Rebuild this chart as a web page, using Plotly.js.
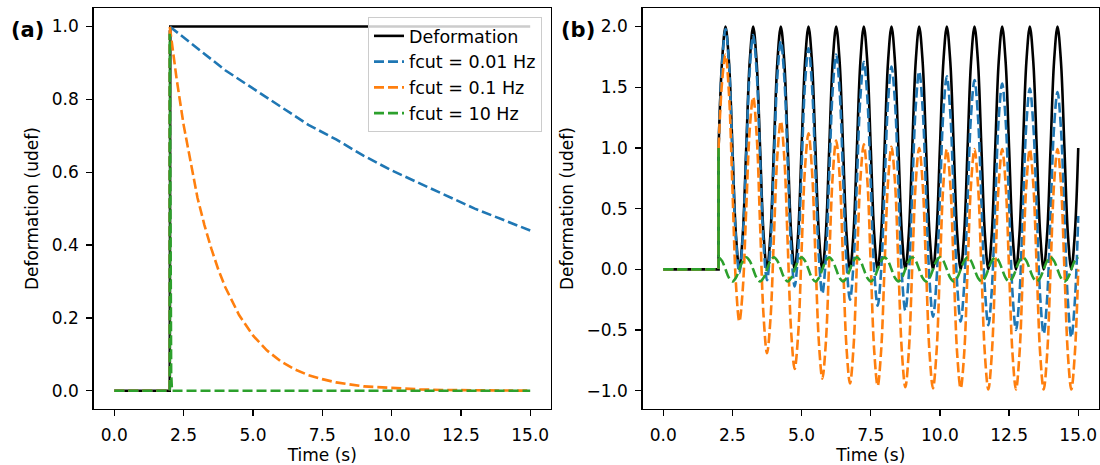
<!DOCTYPE html>
<html>
<head>
<meta charset="utf-8">
<script src="https://cdn.plot.ly/plotly-3.0.1.min.js"></script>
<style>html,body{margin:0;padding:0;background:#fff}#chart{width:1100px;height:465px}</style>
</head>
<body>
<div id="chart"></div>
<script>
// ---------- Panel (a): step deformation ----------
const tA_def = [0, 2, 2.02, 15];
const yA_def = [0, 0, 1, 1];

const tA_f001 = [0, 2, 2, 3, 4, 5, 6, 7, 8, 9, 10, 11, 12, 13, 14, 15];
const yA_f001 = [0, 0, 1, 0.94, 0.88, 0.83, 0.78, 0.73, 0.69, 0.645, 0.605, 0.57, 0.535, 0.50, 0.47, 0.44];

const tA_f01 = [0, 2, 2, 2.1, 2.25, 2.5, 2.75, 3, 3.25, 3.5, 3.75, 4, 4.5, 5, 5.5, 6, 6.5, 7, 7.5, 8, 9, 10, 11, 12, 13, 14, 15];
const yA_f01 = [0, 0, 1, 0.94, 0.855, 0.73, 0.625, 0.53, 0.455, 0.39, 0.333, 0.285, 0.208, 0.152, 0.111, 0.081, 0.059, 0.043, 0.032, 0.023, 0.012, 0.007, 0.004, 0.002, 0.001, 0.0005, 0.0003];

const tA_f10 = [0, 2, 2, 2.02, 2.05, 2.08, 15];
const yA_f10 = [0, 0, 0.98, 0.3, 0.05, 0, 0];

// ---------- Panel (b): sinusoidal deformation ----------
const tB_pre = [0, 2, 2];
const yB_pre = [0, 0, 1];
const tB_preG = [0, 2, 2, 2.0];
const yB_preG = [0, 0, 1, 0.1];

const tB = [
  2, 2.125, 2.25, 2.375, 2.5, 2.625, 2.75, 2.875,
  3, 3.125, 3.25, 3.375, 3.5, 3.625, 3.75, 3.875,
  4, 4.125, 4.25, 4.375, 4.5, 4.625, 4.75, 4.875,
  5, 5.125, 5.25, 5.375, 5.5, 5.625, 5.75, 5.875,
  6, 6.125, 6.25, 6.375, 6.5, 6.625, 6.75, 6.875,
  7, 7.125, 7.25, 7.375, 7.5, 7.625, 7.75, 7.875,
  8, 8.125, 8.25, 8.375, 8.5, 8.625, 8.75, 8.875,
  9, 9.125, 9.25, 9.375, 9.5, 9.625, 9.75, 9.875,
  10, 10.125, 10.25, 10.375, 10.5, 10.625, 10.75, 10.875,
  11, 11.125, 11.25, 11.375, 11.5, 11.625, 11.75, 11.875,
  12, 12.125, 12.25, 12.375, 12.5, 12.625, 12.75, 12.875,
  13, 13.125, 13.25, 13.375, 13.5, 13.625, 13.75, 13.875,
  14, 14.125, 14.25, 14.375, 14.5, 14.625, 14.75, 14.875,
  15
];

const yB_def = [
  1, 1.71, 2, 1.71, 1, 0.29, 0, 0.29,
  1, 1.71, 2, 1.71, 1, 0.29, 0, 0.29,
  1, 1.71, 2, 1.71, 1, 0.29, 0, 0.29,
  1, 1.71, 2, 1.71, 1, 0.29, 0, 0.29,
  1, 1.71, 2, 1.71, 1, 0.29, 0, 0.29,
  1, 1.71, 2, 1.71, 1, 0.29, 0, 0.29,
  1, 1.71, 2, 1.71, 1, 0.29, 0, 0.29,
  1, 1.71, 2, 1.71, 1, 0.29, 0, 0.29,
  1, 1.71, 2, 1.71, 1, 0.29, 0, 0.29,
  1, 1.71, 2, 1.71, 1, 0.29, 0, 0.29,
  1, 1.71, 2, 1.71, 1, 0.29, 0, 0.29,
  1, 1.71, 2, 1.71, 1, 0.29, 0, 0.29,
  1, 1.71, 2, 1.71, 1, 0.29, 0, 0.29,
  1
];

const yB_f001 = [
  1.00, 1.69, 1.98, 1.69, 0.97, 0.26, -0.03, 0.26,
  0.95, 1.64, 1.93, 1.63, 0.92, 0.21, -0.09, 0.20,
  0.90, 1.59, 1.88, 1.58, 0.87, 0.16, -0.14, 0.15,
  0.84, 1.53, 1.82, 1.52, 0.81, 0.10, -0.20, 0.09,
  0.79, 1.48, 1.77, 1.47, 0.76, 0.05, -0.25, 0.04,
  0.73, 1.42, 1.71, 1.42, 0.71, -0.01, -0.30, -0.01,
  0.69, 1.38, 1.67, 1.38, 0.67, -0.05, -0.34, -0.05,
  0.65, 1.34, 1.63, 1.33, 0.62, -0.09, -0.39, -0.10,
  0.60, 1.30, 1.59, 1.29, 0.58, -0.13, -0.43, -0.14,
  0.57, 1.27, 1.56, 1.26, 0.55, -0.16, -0.46, -0.17,
  0.54, 1.24, 1.53, 1.23, 0.52, -0.20, -0.50, -0.21,
  0.50, 1.20, 1.49, 1.19, 0.48, -0.23, -0.53, -0.24,
  0.47, 1.17, 1.46, 1.16, 0.45, -0.26, -0.56, -0.27,
  0.44
];

const yB_f01 = [
  1.00, 1.54, 1.77, 1.45, 0.67, -0.11, -0.43, -0.16,
  0.50, 1.15, 1.42, 1.11, 0.37, -0.38, -0.69, -0.41,
  0.27, 0.94, 1.22, 0.92, 0.20, -0.52, -0.82, -0.54,
  0.15, 0.84, 1.12, 0.82, 0.11, -0.60, -0.90, -0.61,
  0.08, 0.77, 1.06, 0.77, 0.06, -0.65, -0.94, -0.65,
  0.05, 0.74, 1.03, 0.74, 0.04, -0.67, -0.96, -0.67,
  0.03, 0.72, 1.01, 0.72, 0.02, -0.68, -0.97, -0.68,
  0.02, 0.71, 1.00, 0.71, 0.01, -0.69, -0.98, -0.69,
  0.01, 0.70, 0.99, 0.70, 0.00, -0.70, -0.98, -0.70,
  0.00, 0.70, 0.99, 0.70, 0.00, -0.70, -0.99, -0.70,
  0.00, 0.70, 0.99, 0.70, 0.00, -0.70, -0.99, -0.70,
  0.00, 0.70, 0.99, 0.70, 0.00, -0.70, -0.99, -0.70,
  0.00, 0.70, 0.99, 0.70, 0.00, -0.70, -0.99, -0.70,
  0.00
];

const yB_f10 = [
  0.10, 0.07, 0.00, -0.07, -0.10, -0.07, 0.00, 0.07,
  0.10, 0.07, 0.00, -0.07, -0.10, -0.07, 0.00, 0.07,
  0.10, 0.07, 0.00, -0.07, -0.10, -0.07, 0.00, 0.07,
  0.10, 0.07, 0.00, -0.07, -0.10, -0.07, 0.00, 0.07,
  0.10, 0.07, 0.00, -0.07, -0.10, -0.07, 0.00, 0.07,
  0.10, 0.07, 0.00, -0.07, -0.10, -0.07, 0.00, 0.07,
  0.10, 0.07, 0.00, -0.07, -0.10, -0.07, 0.00, 0.07,
  0.10, 0.07, 0.00, -0.07, -0.10, -0.07, 0.00, 0.07,
  0.10, 0.07, 0.00, -0.07, -0.10, -0.07, 0.00, 0.07,
  0.10, 0.07, 0.00, -0.07, -0.10, -0.07, 0.00, 0.07,
  0.10, 0.07, 0.00, -0.07, -0.10, -0.07, 0.00, 0.07,
  0.10, 0.07, 0.00, -0.07, -0.10, -0.07, 0.00, 0.07,
  0.10, 0.07, 0.00, -0.07, -0.10, -0.07, 0.00, 0.07,
  0.10
];

// ---------- Labels / ticks ----------
const seriesNames = ['Deformation', 'fcut = 0.01 Hz', 'fcut = 0.1 Hz', 'fcut = 10 Hz'];
const xTickVals = [0, 2.5, 5, 7.5, 10, 12.5, 15];
const xTickText = ['0.0', '2.5', '5.0', '7.5', '10.0', '12.5', '15.0'];
const yATickVals = [0, 0.2, 0.4, 0.6, 0.8, 1.0];
const yATickText = ['0.0', '0.2', '0.4', '0.6', '0.8', '1.0'];
const yBTickVals = [-1, -0.5, 0, 0.5, 1, 1.5, 2];
const yBTickText = ['\u22121.0', '\u22120.5', '0.0', '0.5', '1.0', '1.5', '2.0'];
const xTitle = 'Time (s)';
const yTitle = 'Deformation (udef)';
const panelLabels = ['(a)', '(b)'];

// ---------- Styling ----------
const colors = ['#000000', '#1f77b4', '#ff7f0e', '#2ca02c'];
const LW = 2.6;
const DASH = '10px,4px';
const FONT = 'DejaVu Sans, Verdana, sans-serif';
const FS = 17;

function line(i, shape) {
  return {color: colors[i], width: LW, dash: i === 0 ? 'solid' : DASH, shape: shape || 'linear'};
}

const traces = [
  {x: tA_def, y: yA_def, name: seriesNames[0], mode: 'lines', line: line(0), xaxis: 'x', yaxis: 'y'},
  {x: tA_f001, y: yA_f001, name: seriesNames[1], mode: 'lines', line: line(1), xaxis: 'x', yaxis: 'y'},
  {x: tA_f01, y: yA_f01, name: seriesNames[2], mode: 'lines', line: line(2), xaxis: 'x', yaxis: 'y'},
  {x: tA_f10, y: yA_f10, name: seriesNames[3], mode: 'lines', line: line(3), xaxis: 'x', yaxis: 'y'},

  {x: tB_pre, y: yB_pre, mode: 'lines', line: line(0), xaxis: 'x2', yaxis: 'y2', showlegend: false},
  {x: tB, y: yB_def, mode: 'lines', line: line(0, 'spline'), xaxis: 'x2', yaxis: 'y2', showlegend: false},
  {x: tB_pre, y: yB_pre, mode: 'lines', line: line(1), xaxis: 'x2', yaxis: 'y2', showlegend: false},
  {x: tB, y: yB_f001, mode: 'lines', line: line(1, 'spline'), xaxis: 'x2', yaxis: 'y2', showlegend: false},
  {x: tB_pre, y: yB_pre, mode: 'lines', line: line(2), xaxis: 'x2', yaxis: 'y2', showlegend: false},
  {x: tB, y: yB_f01, mode: 'lines', line: line(2, 'spline'), xaxis: 'x2', yaxis: 'y2', showlegend: false},
  {x: tB_preG, y: yB_preG, mode: 'lines', line: line(3), xaxis: 'x2', yaxis: 'y2', showlegend: false},
  {x: tB, y: yB_f10, mode: 'lines', line: line(3, 'spline'), xaxis: 'x2', yaxis: 'y2', showlegend: false}
];

const yDom = [1 - 409 / 465, 1 - 8.3 / 465];
function xAxis(dom, anchor) {
  return {
    domain: dom, anchor: anchor, range: [-0.75, 15.75],
    tickmode: 'array', tickvals: xTickVals, ticktext: xTickText,
    ticks: 'outside', ticklen: 6, tickwidth: 1.3, tickcolor: '#000',
    showline: true, mirror: true, linecolor: '#000', linewidth: 1.3,
    showgrid: false, zeroline: false, fixedrange: true,
    tickfont: {family: FONT, size: FS, color: '#000'},
    ticklabelstandoff: 4,
    title: {text: xTitle, font: {family: FONT, size: FS, color: '#000'}, standoff: 4}
  };
}
function yAxis(range, vals, text, anchor) {
  return {
    domain: yDom, anchor: anchor, range: range,
    tickmode: 'array', tickvals: vals, ticktext: text,
    ticks: 'outside', ticklen: 6, tickwidth: 1.3, tickcolor: '#000',
    showline: true, mirror: true, linecolor: '#000', linewidth: 1.3,
    showgrid: false, zeroline: false, fixedrange: true,
    tickfont: {family: FONT, size: FS, color: '#000'},
    ticklabelstandoff: 4,
    title: {text: yTitle, font: {family: FONT, size: FS, color: '#000'}, standoff: 8}
  };
}

const layout = {
  width: 1100, height: 465,
  margin: {l: 0, r: 0, t: 0, b: 0},
  paper_bgcolor: '#ffffff', plot_bgcolor: '#ffffff',
  font: {family: FONT, size: FS, color: '#000'},
  xaxis: xAxis([93.5 / 1100, 551 / 1100], 'y'),
  yaxis: yAxis([-0.05, 1.05], yATickVals, yATickText, 'x'),
  xaxis2: xAxis([642.5 / 1100, 1099 / 1100], 'y2'),
  yaxis2: yAxis([-1.15, 2.15], yBTickVals, yBTickText, 'x2'),
  showlegend: true,
  legend: {
    x: 542 / 1100, xanchor: 'right', y: 1 - 17 / 465, yanchor: 'top',
    bgcolor: 'rgba(255,255,255,0.8)', bordercolor: '#cccccc', borderwidth: 1,
    font: {family: FONT, size: 17.5, color: '#000'}
  },
  annotations: [
    {text: '<b>' + panelLabels[0] + '</b>', xref: 'paper', yref: 'paper', x: 27 / 1100, y: 1 - 30 / 465,
     xanchor: 'center', yanchor: 'middle', showarrow: false, font: {family: FONT, size: 21, color: '#000'}},
    {text: '<b>' + panelLabels[1] + '</b>', xref: 'paper', yref: 'paper', x: 578 / 1100, y: 1 - 30 / 465,
     xanchor: 'center', yanchor: 'middle', showarrow: false, font: {family: FONT, size: 21, color: '#000'}}
  ]
};

Plotly.newPlot('chart', traces, layout, {staticPlot: true, displayModeBar: false});
</script>
</body>
</html>
